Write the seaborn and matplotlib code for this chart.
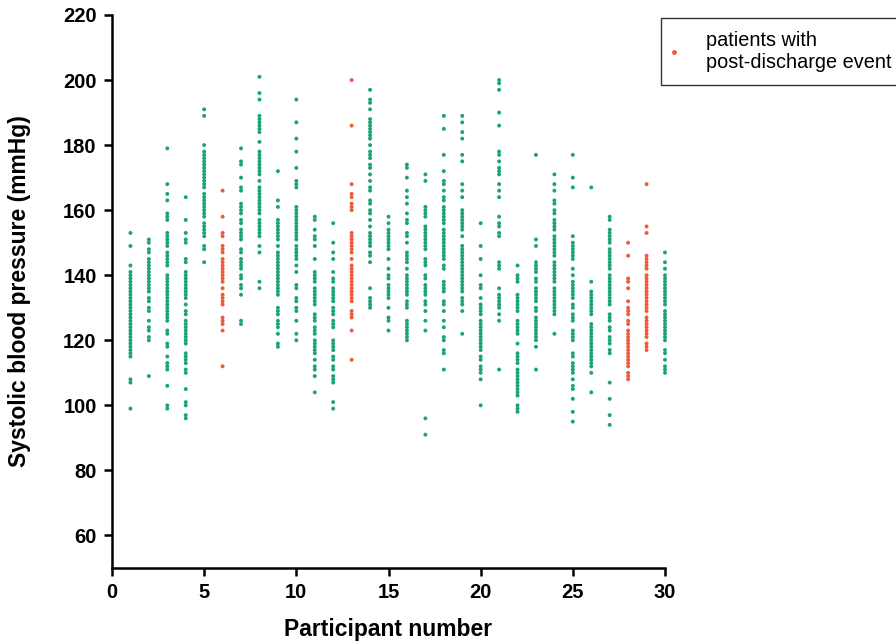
import matplotlib
matplotlib.use("Agg")
import matplotlib.pyplot as plt
from matplotlib.lines import Line2D
import seaborn as sns
import pandas as pd

# Systolic blood pressure readings (mmHg) per participant
p1 = [153,149,143,141,140,139,138,137,136,135,134,133,132,131,130,129,128,127,126,125,124,123,122,121,120,119,118,117,116,115,108,107,99]
p2 = [151,150,148,147,145,144,143,142,141,140,139,138,137,136,135,133,132,130,129,126,124,123,121,120,109]
p3 = [179,168,165,163,159,158,157,153,152,151,150,149,147,146,145,144,143,140,139,138,137,136,135,134,133,132,131,130,129,128,127,126,123,122,119,118,115,113,112,111,106,100,99]
p4 = [164,157,153,151,150,145,144,141,140,139,138,137,136,135,134,133,131,129,128,126,125,124,123,122,121,120,119,116,115,114,113,111,110,105,101,100,97,96]
p5 = [191,189,180,178,177,176,175,174,173,172,171,170,169,168,167,165,164,163,162,161,160,159,158,156,155,154,153,152,149,148,144]
p6 = [166,158,153,152,149,148,147,145,144,143,142,141,140,139,138,136,134,133,132,131,127,126,125,123,112]
p7 = [179,175,174,170,167,166,162,161,160,159,157,156,154,153,152,151,148,147,145,144,143,142,140,139,137,136,134,126,125]
p8 = [201,196,194,189,188,187,186,185,184,181,178,177,176,175,174,173,172,171,169,167,166,165,164,163,162,161,160,159,157,156,155,154,153,152,149,147,138,136]
p9 = [172,163,161,157,156,155,154,153,152,151,149,147,146,145,144,143,142,141,140,139,138,137,136,135,134,130,129,128,126,125,124,122,119,118]
p10 = [194,187,182,178,173,169,168,167,161,160,159,158,157,156,155,154,153,152,151,149,148,147,146,145,143,141,137,136,133,132,130,129,126,122,120]
p11 = [158,157,154,152,151,149,145,141,140,139,138,136,135,134,133,132,131,128,127,126,124,123,122,120,119,118,117,116,114,112,111,109,104]
p12 = [156,150,147,145,141,139,138,136,135,134,133,132,130,129,128,126,125,124,120,119,118,117,115,114,112,111,109,108,107,101,99]
p13 = [200,186,168,165,164,162,161,160,153,152,151,150,149,148,147,145,143,142,141,140,139,138,137,136,135,134,133,132,129,128,127,123,114]
p14 = [197,194,193,191,188,187,186,185,184,183,182,180,178,177,176,174,173,171,169,167,166,163,162,160,159,157,155,153,152,151,150,149,147,146,144,136,133,132,131,130]
p15 = [158,156,154,153,152,151,150,149,148,145,142,140,139,137,136,135,134,133,130,127,126,123]
p16 = [174,173,170,166,164,162,159,157,156,153,152,150,147,146,145,144,142,140,139,138,137,136,135,134,132,131,130,126,125,124,123,122,121,120]
p17 = [171,169,161,160,159,158,155,154,153,152,151,150,149,148,145,144,143,140,139,137,136,135,134,132,131,129,126,123,96,91]
p18 = [189,185,177,172,169,168,166,164,163,161,160,159,158,157,156,154,153,152,151,150,149,148,147,146,145,143,142,138,137,136,135,132,131,129,126,124,121,120,117,116,111]
p19 = [189,187,184,182,177,175,168,166,164,160,159,158,157,156,155,154,152,149,148,147,146,145,144,143,142,141,140,139,138,137,136,135,133,132,131,129,122]
p20 = [156,149,145,140,137,136,133,131,130,129,128,126,125,124,123,122,121,120,119,118,117,115,114,112,111,110,108,100]
p21 = [200,199,197,190,186,178,177,175,173,172,171,168,166,164,158,156,155,153,152,144,143,142,136,134,133,132,131,130,128,126,111]
p22 = [143,140,139,138,134,133,132,131,130,129,126,125,124,123,122,119,116,115,114,113,111,110,109,108,107,106,105,104,103,100,99,98]
p23 = [177,151,149,144,143,142,141,139,138,136,135,134,133,132,130,129,127,126,125,124,123,122,121,120,118,111]
p24 = [171,168,166,163,162,160,159,157,156,155,154,152,151,150,149,148,147,146,144,143,142,141,140,139,138,136,135,134,133,132,131,130,129,128,122]
p25 = [177,170,167,152,150,149,148,147,146,145,142,140,138,137,136,135,134,133,131,130,128,127,126,123,122,121,120,116,115,113,112,111,110,108,106,105,102,98,95]
p26 = [167,138,135,134,133,132,131,130,129,128,125,124,123,122,121,120,119,118,117,116,115,114,113,112,110,104]
p27 = [158,157,154,153,152,151,150,148,147,146,145,144,143,142,140,139,138,137,136,135,134,133,132,131,128,127,126,124,123,121,120,119,117,116,107,102,97,94]
p28 = [150,146,139,138,136,132,130,129,128,126,125,123,122,121,120,119,118,117,116,115,114,113,112,110,109,108]
p29 = [168,155,153,146,145,144,143,142,140,139,138,137,136,135,134,133,132,131,130,129,127,126,125,124,123,122,121,119,118,117]
p30 = [147,144,142,140,139,138,137,136,135,134,133,132,131,129,128,127,126,125,124,123,122,121,120,117,116,114,112,111,110]

event_participants = [6, 13, 28, 29]
x_ticks = [0, 5, 10, 15, 20, 25, 30]
y_ticks = [60, 80, 100, 120, 140, 160, 180, 200, 220]
legend_label = "patients with\npost-discharge event"

series = [p1, p2, p3, p4, p5, p6, p7, p8, p9, p10, p11, p12, p13, p14, p15,
          p16, p17, p18, p19, p20, p21, p22, p23, p24, p25, p26, p27, p28, p29, p30]
rows = []
for i, vals in enumerate(series, start=1):
    for v in vals:
        rows.append({"participant": i, "sbp": v,
                     "event": "yes" if i in event_participants else "no"})
df = pd.DataFrame(rows)

GREEN = "#1aa37a"
RED = "#f05a3a"

sns.set_theme(style="ticks")
plt.rcParams["font.family"] = ["Liberation Sans", "DejaVu Sans"]
plt.rcParams["text.color"] = "black"
plt.rcParams["axes.labelcolor"] = "black"
plt.rcParams["xtick.color"] = "black"
plt.rcParams["ytick.color"] = "black"

fig = plt.figure(figsize=(8.96, 6.44), dpi=100)
ax = fig.add_axes([112/896, 1 - 568/644, (665-112)/896, (568-15)/644])

sns.scatterplot(data=df, x="participant", y="sbp", hue="event",
                palette={"no": GREEN, "yes": RED}, s=8, linewidth=0,
                legend=False, ax=ax, clip_on=False)

ax.set_xlim(0, 30)
ax.set_ylim(50, 220)
ax.set_xticks(x_ticks)
ax.set_yticks(y_ticks)
for lab in ax.get_xticklabels() + ax.get_yticklabels():
    lab.set_fontweight("bold")
    lab.set_fontsize(14.5)
ax.tick_params(axis="both", direction="out", length=6, width=1.8,
               color="black", labelcolor="black", pad=5)
for s in ["left", "bottom"]:
    ax.spines[s].set_linewidth(1.8)
    ax.spines[s].set_color("black")
sns.despine(ax=ax)
ax.set_xlabel("Participant number", fontsize=16.5, fontweight="bold", labelpad=11)
ax.set_ylabel("Systolic blood pressure (mmHg)", fontsize=16.5, fontweight="bold", labelpad=23)

handle = Line2D([], [], marker="o", linestyle="", markersize=2.5,
                markerfacecolor=RED, markeredgecolor=RED)
leg = fig.legend([handle], [legend_label], loc="upper left",
                 bbox_to_anchor=(661/896, 1 - 18/644), frameon=True,
                 fancybox=False, fontsize=14.3, handletextpad=1.6,
                 borderpad=0.65, handlelength=0.0, borderaxespad=0)
leg.get_frame().set_edgecolor("black")
leg.get_frame().set_linewidth(1.0)

fig.savefig("out.png", dpi=100)
